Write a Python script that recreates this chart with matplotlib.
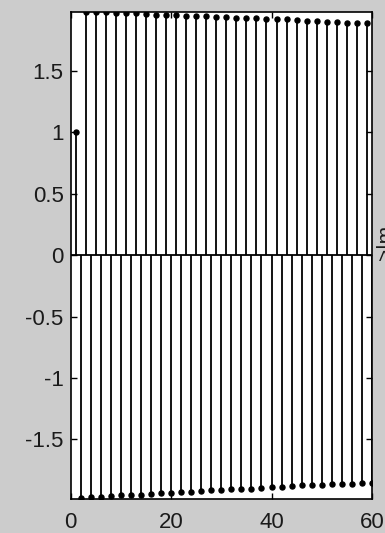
import numpy as np
import matplotlib
matplotlib.use('Agg')
from matplotlib import pyplot as plt

plt.rcParams['font.family'] = ['Liberation Sans', 'DejaVu Sans']
plt.rcParams['axes.unicode_minus'] = False

# sample index n = 1..60
n = np.arange(1, 61)

# first sample
first_value = 1.0

# odd samples n = 3, 5, ..., 59 (positive side)
odd_values = [1.98, 1.98, 1.98, 1.975, 1.97, 1.97, 1.965, 1.96, 1.96, 1.955,
              1.95, 1.95, 1.945, 1.94, 1.94, 1.935, 1.93, 1.93, 1.925, 1.92,
              1.92, 1.915, 1.91, 1.905, 1.90, 1.90, 1.895, 1.89, 1.89]

# even samples n = 2, 4, ..., 60 (negative side)
even_values = [-1.975, -1.97, -1.965, -1.96, -1.955, -1.95, -1.95, -1.945, -1.94, -1.935,
               -1.93, -1.925, -1.92, -1.915, -1.91, -1.905, -1.90, -1.90, -1.895, -1.89,
               -1.885, -1.88, -1.875, -1.87, -1.87, -1.865, -1.86, -1.86, -1.855, -1.855]

y_ticks = [-1.5, -1, -0.5, 0, 0.5, 1, 1.5]
y_tick_labels = ['-1.5', '-1', '-0.5', '0', '0.5', '1', '1.5']
x_ticks = [0, 20, 40, 60]
x_tick_labels = ['0', '20', '40', '60']

# interleave into one sequence
x = np.zeros(len(n))
x[0] = first_value
x[1::2] = even_values
x[2::2] = odd_values

bg = '#cccccc'
fig = plt.figure(figsize=(3.85, 5.33), dpi=100, facecolor=bg)
ax = fig.add_axes([70.5 / 385, 34 / 533, 301.5 / 385, 487.5 / 533])

markerline, stemlines, baseline = ax.stem(n, x, linefmt='k-', markerfmt='ko', basefmt='k-')
plt.setp(stemlines, linewidth=1.3)
plt.setp(markerline, markersize=3.6)
plt.setp(baseline, linewidth=1.3)
baseline.set_xdata([0, 60])

ax.set_xlim(0, 60)
ax.set_ylim(-1.985, 1.985)
ax.set_xticks(x_ticks)
ax.set_xticklabels(x_tick_labels)
ax.set_yticks(y_ticks)
ax.set_yticklabels(y_tick_labels)
ax.tick_params(direction='in', length=4, width=1, top=True, right=True,
               labelsize=16, labelcolor='#1a1a1a')
ax.tick_params(axis='x', pad=9)
ax.tick_params(axis='y', pad=5)
for sp in ax.spines.values():
    sp.set_linewidth(1.2)

# label of the neighbouring panel, clipped by the figure edge
fig.text(376 / 385, 1 - 242 / 533, '>|m', rotation=90, fontsize=15,
         ha='left', va='center', color='#1a1a1a')

fig.savefig('out.png', dpi=100, facecolor=bg)
